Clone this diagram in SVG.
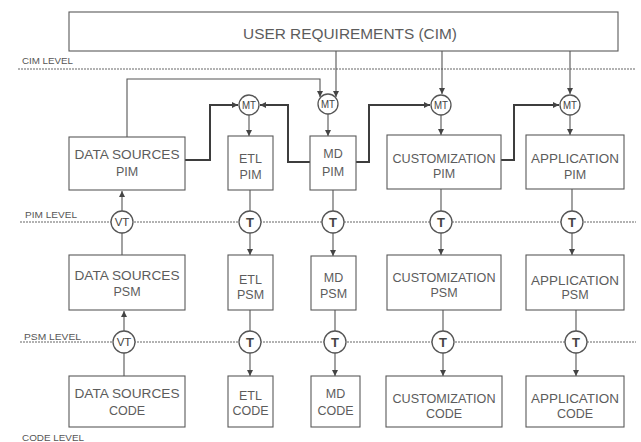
<svg xmlns="http://www.w3.org/2000/svg" width="641" height="442" viewBox="0 0 641 442">
  <style>
    .box { fill: #ffffff; stroke: #5a5a5a; stroke-width: 1.1; }
    .lbl { font-family: "Liberation Sans", Arial, sans-serif; font-size: 12.5px; fill: #5c5c5c; text-anchor: middle; }
    .title { font-family: "Liberation Sans", Arial, sans-serif; font-size: 15px; fill: #5c5c5c; text-anchor: middle; }
    .lvl { font-family: "Liberation Sans", Arial, sans-serif; font-size: 8.5px; fill: #555555; }
    .level { stroke: #666666; stroke-width: 1.2; stroke-dasharray: 2 1; fill: none; }
    .thin { stroke: #555555; stroke-width: 1.1; fill: none; }
    .thick { stroke: #3d3d3d; stroke-width: 2; fill: none; }
    .arr { marker-end: url(#ah); }
    .circ { fill: #ffffff; stroke: #555555; stroke-width: 1.3; }
    .ct { font-family: "Liberation Sans", Arial, sans-serif; fill: #444444; text-anchor: middle; }
    .b { font-weight: bold; }
  </style>
  <defs>
    <marker id="ah" markerUnits="userSpaceOnUse" markerWidth="7" markerHeight="6" refX="6" refY="3" orient="auto">
      <path d="M0,0 L6,3 L0,6 z" fill="#444444"/>
    </marker>
  </defs>

  <rect width="641" height="442" fill="#ffffff"/>

  <!-- level separators and their labels -->
  <g id="levels">
    <line class="level" x1="18" y1="69" x2="636" y2="69"/>
    <line class="level" x1="20" y1="222" x2="636" y2="222"/>
    <line class="level" x1="20" y1="342" x2="636" y2="342"/>
    <text class="lvl" x="22" y="64" textLength="51" lengthAdjust="spacingAndGlyphs">CIM LEVEL</text>
    <text class="lvl" x="25" y="218" textLength="52" lengthAdjust="spacingAndGlyphs">PIM LEVEL</text>
    <text class="lvl" x="24" y="340" textLength="57" lengthAdjust="spacingAndGlyphs">PSM LEVEL</text>
    <text class="lvl" x="22" y="441" textLength="62" lengthAdjust="spacingAndGlyphs">CODE LEVEL</text>
  </g>

  <!-- connectors -->
  <g id="connectors">
    <!-- requirements down to the model transformations -->
    <line class="thin arr" x1="336" y1="51" x2="336" y2="97"/>
    <line class="thin arr" x1="442" y1="51" x2="442" y2="94"/>
    <line class="thin arr" x1="570" y1="51" x2="570" y2="94"/>
    <!-- data sources PIM over the top into MD transformation -->
    <polyline class="thin arr" points="127,137 127,79 320,79 320,97"/>
    <!-- PIM inputs feeding the MT nodes -->
    <polyline class="thick arr" points="185,160 210,160 210,105 238,105"/>
    <polyline class="thick arr" points="310,162 288,162 288,105 260,105"/>
    <polyline class="thick arr" points="356,162 369,162 369,105 430,105"/>
    <polyline class="thick arr" points="501,160 514,160 514,105 559,105"/>
    <!-- MT outputs to PIM boxes -->
    <line class="thin arr" x1="249" y1="115" x2="249" y2="136"/>
    <line class="thin arr" x1="328" y1="114" x2="328" y2="136"/>
    <line class="thin arr" x1="441" y1="115" x2="441" y2="135"/>
    <line class="thin arr" x1="570" y1="115" x2="570" y2="135"/>
    <!-- PIM to PSM -->
    <line class="thin arr" x1="122" y1="211" x2="122" y2="191"/>
    <line class="thin" x1="122" y1="255" x2="122" y2="233"/>
    <line class="thin" x1="250" y1="190" x2="250" y2="211"/>
    <line class="thin arr" x1="250" y1="233" x2="250" y2="255"/>
    <line class="thin" x1="333" y1="190" x2="333" y2="211"/>
    <line class="thin arr" x1="333" y1="233" x2="333" y2="256"/>
    <line class="thin" x1="441" y1="189" x2="441" y2="211"/>
    <line class="thin arr" x1="441" y1="233" x2="441" y2="255"/>
    <line class="thin" x1="572" y1="189" x2="572" y2="211"/>
    <line class="thin arr" x1="572" y1="233" x2="572" y2="255"/>
    <!-- PSM to CODE -->
    <line class="thin arr" x1="124" y1="331" x2="124" y2="311"/>
    <line class="thin" x1="124" y1="376" x2="124" y2="353"/>
    <line class="thin" x1="250" y1="310" x2="250" y2="331"/>
    <line class="thin arr" x1="250" y1="353" x2="250" y2="376"/>
    <line class="thin" x1="335" y1="310" x2="335" y2="331"/>
    <line class="thin arr" x1="335" y1="353" x2="335" y2="376"/>
    <line class="thin" x1="443" y1="310" x2="443" y2="331"/>
    <line class="thin arr" x1="443" y1="353" x2="443" y2="376"/>
    <line class="thin" x1="576" y1="310" x2="576" y2="331"/>
    <line class="thin arr" x1="576" y1="353" x2="576" y2="376"/>
  </g>

  <!-- CIM -->
  <g id="user-requirements">
    <rect class="box" x="69" y="12" width="549" height="39"/>
    <text class="title" x="350" y="39" textLength="214" lengthAdjust="spacingAndGlyphs">USER REQUIREMENTS (CIM)</text>
  </g>

  <!-- PIM row -->
  <g id="ds-pim">
    <rect class="box" x="69" y="137" width="116" height="53"/>
    <text class="lbl" x="127" y="159" textLength="105" lengthAdjust="spacingAndGlyphs">DATA SOURCES</text>
    <text class="lbl" x="127" y="176">PIM</text>
  </g>
  <g id="etl-pim">
    <rect class="box" x="228" y="136" width="45" height="54"/>
    <text class="lbl" x="250.5" y="163">ETL</text>
    <text class="lbl" x="250.5" y="179">PIM</text>
  </g>
  <g id="md-pim">
    <rect class="box" x="310" y="136" width="46" height="54"/>
    <text class="lbl" x="333" y="158">MD</text>
    <text class="lbl" x="333" y="176">PIM</text>
  </g>
  <g id="cust-pim">
    <rect class="box" x="387" y="135" width="114" height="54"/>
    <text class="lbl" x="444" y="163" textLength="103" lengthAdjust="spacingAndGlyphs">CUSTOMIZATION</text>
    <text class="lbl" x="444" y="178">PIM</text>
  </g>
  <g id="app-pim">
    <rect class="box" x="526" y="135" width="98" height="54"/>
    <text class="lbl" x="575" y="163" textLength="88" lengthAdjust="spacingAndGlyphs">APPLICATION</text>
    <text class="lbl" x="575" y="179">PIM</text>
  </g>

  <!-- PSM row -->
  <g id="ds-psm">
    <rect class="box" x="69" y="255" width="116" height="55"/>
    <text class="lbl" x="127" y="280" textLength="105" lengthAdjust="spacingAndGlyphs">DATA SOURCES</text>
    <text class="lbl" x="127" y="296">PSM</text>
  </g>
  <g id="etl-psm">
    <rect class="box" x="228" y="255" width="45" height="55"/>
    <text class="lbl" x="250.5" y="284">ETL</text>
    <text class="lbl" x="250.5" y="299">PSM</text>
  </g>
  <g id="md-psm">
    <rect class="box" x="311" y="256" width="45" height="54"/>
    <text class="lbl" x="333.5" y="282">MD</text>
    <text class="lbl" x="333.5" y="298">PSM</text>
  </g>
  <g id="cust-psm">
    <rect class="box" x="387" y="255" width="114" height="55"/>
    <text class="lbl" x="444" y="282" textLength="103" lengthAdjust="spacingAndGlyphs">CUSTOMIZATION</text>
    <text class="lbl" x="444" y="297">PSM</text>
  </g>
  <g id="app-psm">
    <rect class="box" x="526" y="255" width="98" height="55"/>
    <text class="lbl" x="575" y="285" textLength="88" lengthAdjust="spacingAndGlyphs">APPLICATION</text>
    <text class="lbl" x="575" y="299">PSM</text>
  </g>

  <!-- CODE row -->
  <g id="ds-code">
    <rect class="box" x="69" y="376" width="116" height="51"/>
    <text class="lbl" x="127" y="398" textLength="105" lengthAdjust="spacingAndGlyphs">DATA SOURCES</text>
    <text class="lbl" x="127" y="415">CODE</text>
  </g>
  <g id="etl-code">
    <rect class="box" x="228" y="376" width="45" height="51"/>
    <text class="lbl" x="250.5" y="400">ETL</text>
    <text class="lbl" x="250.5" y="415">CODE</text>
  </g>
  <g id="md-code">
    <rect class="box" x="311" y="376" width="49" height="51"/>
    <text class="lbl" x="335.5" y="398">MD</text>
    <text class="lbl" x="335.5" y="415">CODE</text>
  </g>
  <g id="cust-code">
    <rect class="box" x="386" y="376" width="116" height="51"/>
    <text class="lbl" x="444" y="403" textLength="103" lengthAdjust="spacingAndGlyphs">CUSTOMIZATION</text>
    <text class="lbl" x="444" y="418">CODE</text>
  </g>
  <g id="app-code">
    <rect class="box" x="526" y="376" width="98" height="51"/>
    <text class="lbl" x="575" y="403" textLength="88" lengthAdjust="spacingAndGlyphs">APPLICATION</text>
    <text class="lbl" x="575" y="418">CODE</text>
  </g>

  <!-- model transformations (MT) -->
  <g id="mt-etl"><circle class="circ" cx="249" cy="105" r="10"/><text class="ct" x="249" y="109" font-size="10.5" textLength="14" lengthAdjust="spacingAndGlyphs">MT</text></g>
  <g id="mt-md"><circle class="circ" cx="328" cy="104" r="10"/><text class="ct" x="328" y="108" font-size="10.5" textLength="14" lengthAdjust="spacingAndGlyphs">MT</text></g>
  <g id="mt-cust"><circle class="circ" cx="441" cy="105" r="10"/><text class="ct" x="441" y="109" font-size="10.5" textLength="14" lengthAdjust="spacingAndGlyphs">MT</text></g>
  <g id="mt-app"><circle class="circ" cx="570" cy="105" r="10"/><text class="ct" x="570" y="109" font-size="10.5" textLength="14" lengthAdjust="spacingAndGlyphs">MT</text></g>

  <!-- PIM to PSM transformations -->
  <g id="vt-pim"><circle class="circ" cx="122" cy="222" r="11"/><text class="ct" x="122" y="226" font-size="11.5">VT</text></g>
  <g id="t-etl-pim"><circle class="circ" cx="250" cy="222" r="11"/><text class="ct b" x="250" y="227" font-size="13">T</text></g>
  <g id="t-md-pim"><circle class="circ" cx="333" cy="222" r="11"/><text class="ct b" x="333" y="227" font-size="13">T</text></g>
  <g id="t-cust-pim"><circle class="circ" cx="441" cy="222" r="11"/><text class="ct b" x="441" y="227" font-size="13">T</text></g>
  <g id="t-app-pim"><circle class="circ" cx="572" cy="222" r="11"/><text class="ct b" x="572" y="227" font-size="13">T</text></g>

  <!-- PSM to CODE transformations -->
  <g id="vt-psm"><circle class="circ" cx="124" cy="342" r="11"/><text class="ct" x="124" y="346" font-size="11.5">VT</text></g>
  <g id="t-etl-psm"><circle class="circ" cx="250" cy="342" r="11"/><text class="ct b" x="250" y="347" font-size="13">T</text></g>
  <g id="t-md-psm"><circle class="circ" cx="335" cy="342" r="11"/><text class="ct b" x="335" y="347" font-size="13">T</text></g>
  <g id="t-cust-psm"><circle class="circ" cx="443" cy="342" r="11"/><text class="ct b" x="443" y="347" font-size="13">T</text></g>
  <g id="t-app-psm"><circle class="circ" cx="576" cy="342" r="11"/><text class="ct b" x="576" y="347" font-size="13">T</text></g>
</svg>
